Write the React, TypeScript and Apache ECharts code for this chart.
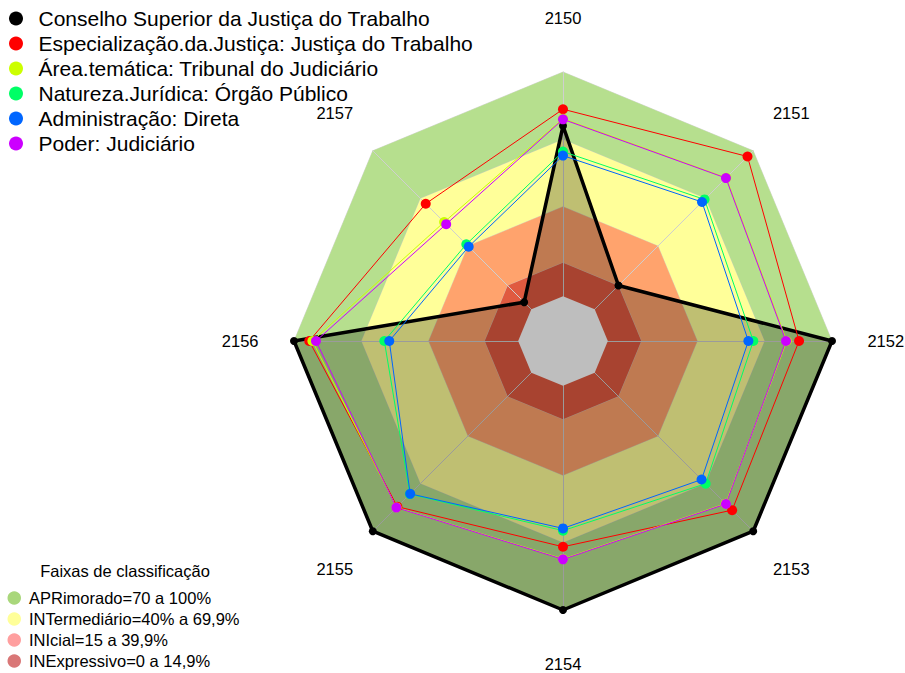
import React, { useEffect, useRef } from "react";
import * as echarts from "echarts";

// Axes (clockwise from top)
const INDICATORS = ["2150", "2151", "2152", "2153", "2154", "2155", "2156", "2157"];

// Series values per indicator (same order as INDICATORS)
const CONSELHO = [76, 15, 100, 100, 100, 100, 100, 4.5];
const ESPECIALIZACAO = [83.4, 96.4, 85.3, 86.7, 71.8, 84.5, 93.2, 66.6];
const AREA_TEMATICA = [79.2, 83.0, 79.8, 82.6, 77.2, 85.0, 91.8, 55.0];
const NATUREZA = [64.5, 69.3, 64.9, 70.0, 64.6, 76.6, 59.7, 41.0];
const ADMINISTRACAO = [62.7, 67.7, 62.7, 67.4, 63.6, 76.4, 57.5, 39.5];
const PODER = [78.9, 82.8, 79.5, 82.8, 77.4, 85.1, 90.2, 53.7];

const SERIES_NAMES = [
  "Conselho Superior da Justiça do Trabalho",
  "Especialização.da.Justiça: Justiça do Trabalho",
  "Área.temática: Tribunal do Judiciário",
  "Natureza.Jurídica: Órgão Público",
  "Administração: Direta",
  "Poder: Judiciário",
];
const SERIES_VALUES = [CONSELHO, ESPECIALIZACAO, AREA_TEMATICA, NATUREZA, ADMINISTRACAO, PODER];
const SERIES_COLORS = ["#000000", "#FF0000", "#CCFF00", "#00FF66", "#0066FF", "#CC00FF"];

// Classification bands (upper limits)
const BAND_LIMITS = [100, 69.9, 39.9, 14.9];
const BAND_NAMES = [
  "APRimorado=70 a 100%",
  "INTermediário=40% a 69,9%",
  "INIcial=15 a 39,9%",
  "INExpressivo=0 a 14,9%",
];
const BAND_FILL = ["#B6DF8E", "#FFFF99", "#FFA36D", "#E05A40"];
const BAND_LEGEND = ["#A9D77B", "#FFFF99", "#FF9F9F", "#D97777"];
const CENTER_VALUE = 0;

const AXIS_MIN = -20;
const AXIS_MAX = 100;

const CX = 563;
const CY = 341;
const R = 269;
const FONT = "'Liberation Sans', Arial, sans-serif";

// ECharts lays indicators counter-clockwise; reorder to get clockwise layout
const ORDER = INDICATORS.map((_, i) => (INDICATORS.length - i) % INDICATORS.length);
const reorder = (arr: any[]) => ORDER.map((i) => arr[i]);

export default function App() {
  const ref = useRef<HTMLDivElement>(null);

  useEffect(() => {
    document.body.style.margin = "0";
    const chart = echarts.init(ref.current!, null, { renderer: "svg" });

    const indicator = reorder(INDICATORS).map((n: string) => ({ name: n, min: AXIS_MIN, max: AXIS_MAX }));

    const radarBase = {
      center: [CX, CY],
      radius: R,
      startAngle: 90,
      shape: "polygon" as const,
      indicator,
      axisName: { show: false },
      splitLine: { show: false },
      splitArea: { show: false },
      axisTick: { show: false },
      axisLabel: { show: false },
    };

    const bandSeries = BAND_LIMITS.map((lim, k) => ({
      type: "radar",
      name: BAND_NAMES[k],
      radarIndex: 0,
      z: 1,
      silent: true,
      symbol: "none",
      lineStyle: { color: "rgba(200,200,200,0.7)", width: 1 },
      areaStyle: { color: BAND_FILL[k], opacity: 1 },
      itemStyle: { color: BAND_LEGEND[k] },
      data: [{ value: INDICATORS.map(() => lim), name: BAND_NAMES[k] }],
    }));

    const centerSeries = {
      type: "radar",
      name: "centro",
      radarIndex: 0,
      z: 4,
      silent: true,
      symbol: "none",
      lineStyle: { width: 0, opacity: 0 },
      areaStyle: { color: "#BEBEBE", opacity: 1 },
      data: [{ value: INDICATORS.map(() => CENTER_VALUE) }],
    };

    const dataSeries = SERIES_VALUES.map((vals, k) => {
      const isBlack = k === 0;
      return {
        type: "radar",
        name: SERIES_NAMES[k],
        radarIndex: 0,
        z: isBlack ? 3 : 5,
        silent: true,
        symbol: "circle",
        symbolSize: isBlack ? 8 : 10,
        lineStyle: { color: SERIES_COLORS[k], width: isBlack ? 3.5 : 1 },
        itemStyle: { color: SERIES_COLORS[k], borderWidth: 0 },
        areaStyle: isBlack ? { color: "rgba(0,0,0,0.25)", opacity: 1 } : undefined,
        data: [{ value: reorder(vals), name: SERIES_NAMES[k] }],
      };
    });

    const labelRadius = R * 1.2;
    const axisLabels = INDICATORS.map((name, i) => {
      const a = (i * 2 * Math.PI) / INDICATORS.length;
      return {
        type: "text",
        x: CX + labelRadius * Math.sin(a),
        y: CY - labelRadius * Math.cos(a),
        style: {
          text: name,
          fontSize: 16.5,
          fontFamily: FONT,
          fill: "#000",
          align: "center",
          verticalAlign: "middle",
        },
      };
    });

    chart.setOption({
      animation: false,
      backgroundColor: "#ffffff",
      radar: [
        { ...radarBase, axisLine: { show: false }, z: 0 },
        {
          ...radarBase,
          z: 2,
          axisLine: { show: true, lineStyle: { color: "#CFCFCF", width: 1 } },
        },
      ],
      legend: [
        {
          data: SERIES_NAMES.map((n, k) => ({ name: n, itemStyle: { color: SERIES_COLORS[k], borderWidth: 0 } })),
          orient: "vertical",
          left: 9,
          top: 8,
          padding: 0,
          itemGap: 4,
          itemWidth: 35,
          itemHeight: 14,
          icon: "circle",
          selectedMode: false,
          textStyle: { fontSize: 21, fontFamily: FONT, color: "#000" },
        },
        {
          data: BAND_NAMES.map((n, k) => ({ name: n, itemStyle: { color: BAND_LEGEND[k], borderWidth: 0 } })),
          orient: "vertical",
          left: 7.5,
          top: 589.5,
          padding: 0,
          itemGap: 4,
          itemWidth: 19.5,
          itemHeight: 13.5,
          icon: "circle",
          selectedMode: false,
          textStyle: { fontSize: 16.5, fontFamily: FONT, color: "#000" },
        },
      ],
      graphic: [
        ...axisLabels,
        {
          type: "text",
          x: 125,
          y: 571,
          style: {
            text: "Faixas de classificação",
            fontSize: 16.5,
            fontFamily: FONT,
            fill: "#000",
            align: "center",
            verticalAlign: "middle",
          },
        },
      ],
      series: [...bandSeries, dataSeries[0], centerSeries, ...dataSeries.slice(1)],
    });

    return () => chart.dispose();
  }, []);

  return <div ref={ref} style={{ width: 905, height: 673 }} />;
}
